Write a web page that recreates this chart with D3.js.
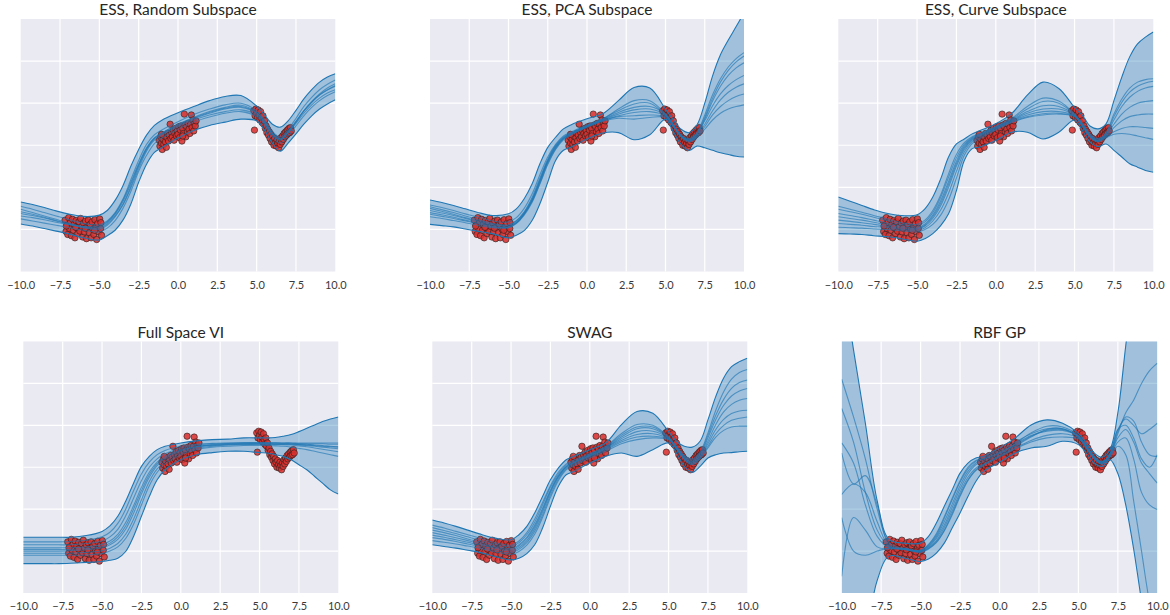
<!DOCTYPE html>
<html>
<head>
<meta charset="utf-8">
<script src="https://cdn.jsdelivr.net/npm/d3@7"></script>
<style>
  body { margin: 0; background: #fff; }
  svg { display: block; }
  text { font-family: Lato, "DejaVu Sans", sans-serif; }
</style>
</head>
<body>
<svg id="chart" width="1170" height="615"></svg>
<script>
// x positions where every curve below is sampled
var xKnots = [-10,-9.25,-8.5,-7.75,-7,-6,-5,-4.5,-4,-3.5,-3,-2.5,-2,-1.5,-1,0,1,2,3,4,5,5.5,6,6.5,7,7.5,8,8.5,9,9.5,10];
var xTicks = [-10,-7.5,-5,-2.5,0,2.5,5,7.5,10];
var yGrid = [-2,-1,0,1,2];

// observed points (same data in every panel)
var obsLeft = [[-7.18,-1.78],[-7.12,-2.05],[-7.05,-1.9],[-7.01,-2.12],[-6.95,-1.72],[-6.9,-1.98],[-6.84,-1.84],[-6.78,-2.15],[-6.71,-1.76],[-6.66,-2.02],[-6.6,-1.88],[-6.55,-2.2],[-6.48,-1.79],[-6.42,-1.96],[-6.37,-2.1],[-6.3,-1.82],[-6.24,-2.04],[-6.19,-1.74],[-6.12,-1.93],[-6.06,-2.18],[-6.0,-1.85],[-5.95,-2.06],[-5.88,-1.8],[-5.82,-2.22],[-5.77,-1.95],[-5.7,-1.78],[-5.64,-2.08],[-5.58,-1.88],[-5.52,-2.2],[-5.46,-1.82],[-5.4,-2.0],[-5.35,-2.12],[-5.28,-1.77],[-5.22,-1.96],[-5.17,-2.24],[-5.1,-1.86],[-5.05,-2.06],[-4.98,-1.75],[-4.92,-1.98],[-4.86,-2.14],[-7.1,-1.92],[-6.5,-1.95],[-5.9,-1.97],[-5.3,-2.02],[-4.9,-1.84]];
var obsMid = [[-1.2,0.12],[-1.15,-0.02],[-1.1,0.2],[-1.05,0.05],[-1.0,-0.1],[-0.95,0.14],[-0.9,0.02],[-0.85,0.22],[-0.8,0.08],[-0.74,-0.05],[-0.7,0.18],[-0.65,0.28],[-0.6,0.1],[-0.55,0.24],[-0.5,0.5],[-0.45,0.16],[-0.4,0.3],[-0.35,0.2],[-0.3,0.36],[-0.25,0.12],[-0.2,0.28],[-0.15,0.4],[-0.1,0.22],[-0.05,0.34],[0.0,0.26],[0.05,0.44],[0.1,0.18],[0.15,0.36],[0.2,0.46],[0.25,0.1],[0.3,0.4],[0.35,0.28],[0.4,0.74],[0.45,0.48],[0.5,0.2],[0.55,0.44],[0.6,0.32],[0.65,0.52],[0.7,0.38],[0.75,0.28],[0.8,0.5],[0.85,0.72],[0.9,0.42],[0.95,0.6],[1.0,0.34],[1.05,0.52],[1.1,0.46],[1.15,0.58],[-1.05,0.26],[0.3,0.22]];
var obsRight = [[4.82,0.82],[4.86,0.36],[4.9,0.7],[4.95,0.86],[5.0,0.76],[5.05,0.66],[5.1,0.84],[5.15,0.72],[5.2,0.6],[5.25,0.8],[5.3,0.66],[5.35,0.54],[5.4,0.7],[5.45,0.5],[5.5,0.58],[5.55,0.4],[5.6,0.46],[5.65,0.3],[5.7,0.38],[5.75,0.24],[5.8,0.32],[5.85,0.16],[5.9,0.26],[5.95,0.08],[6.0,0.2],[6.05,0.12],[6.1,0.0],[6.15,0.16],[6.2,0.06],[6.25,-0.02],[6.3,0.12],[6.35,0.04],[6.4,-0.06],[6.45,0.1],[6.5,0.02],[6.55,0.18],[6.6,0.08],[6.65,0.22],[6.7,0.14],[6.75,0.28],[6.8,0.2],[6.85,0.32],[6.9,0.24],[6.95,0.36],[7.0,0.28],[7.05,0.4],[7.1,0.3],[7.15,0.42],[7.2,0.34]];

var titles = ["ESS, Random Subspace", "ESS, PCA Subspace", "ESS, Curve Subspace", "Full Space VI", "SWAG", "RBF GP"];

// ESS, random subspace
var upperRandom = [-1.35,-1.41,-1.48,-1.56,-1.63,-1.69,-1.66,-1.55,-1.31,-0.96,-0.5,-0.1,0.24,0.47,0.6,0.77,0.92,1.06,1.16,1.18,0.93,0.72,0.5,0.43,0.58,0.83,1.1,1.32,1.5,1.62,1.7];
var lowerRandom = [-1.87,-1.92,-1.98,-2.04,-2.1,-2.2,-2.25,-2.15,-2.02,-1.78,-1.4,-0.88,-0.45,-0.17,-0.05,0.17,0.35,0.47,0.55,0.62,0.58,0.36,0.05,-0.14,0.05,0.27,0.5,0.7,0.86,0.98,1.08];
var samplesRandom = [
  [-1.45,-1.52,-1.6,-1.68,-1.76,-1.86,-1.89,-1.8,-1.6,-1.28,-0.82,-0.36,0.02,0.25,0.37,0.56,0.73,0.86,0.96,1.0,0.82,0.6,0.33,0.2,0.38,0.64,0.92,1.14,1.32,1.45,1.55],
  [-1.75,-1.8,-1.85,-1.9,-1.95,-2.02,-2.06,-1.97,-1.79,-1.5,-1.1,-0.62,-0.24,0.04,0.18,0.38,0.55,0.67,0.76,0.8,0.68,0.48,0.2,0.05,0.22,0.46,0.7,0.9,1.06,1.18,1.27],
  [-1.58,-1.64,-1.71,-1.79,-1.86,-1.95,-1.97,-1.87,-1.68,-1.4,-0.98,-0.5,-0.1,0.16,0.28,0.47,0.63,0.76,0.86,0.9,0.76,0.55,0.27,0.15,0.32,0.56,0.81,1.02,1.2,1.32,1.42],
  [-1.68,-1.72,-1.77,-1.83,-1.88,-1.93,-1.92,-1.82,-1.62,-1.3,-0.88,-0.44,-0.06,0.18,0.3,0.5,0.66,0.8,0.9,0.95,0.78,0.55,0.27,0.13,0.3,0.52,0.76,0.96,1.12,1.24,1.32],
  [-1.52,-1.6,-1.68,-1.76,-1.84,-1.96,-2.0,-1.9,-1.7,-1.42,-1.02,-0.56,-0.14,0.12,0.25,0.44,0.6,0.72,0.8,0.84,0.72,0.52,0.25,0.12,0.3,0.55,0.82,1.04,1.22,1.36,1.46],
  [-1.62,-1.67,-1.73,-1.8,-1.87,-1.94,-1.95,-1.84,-1.64,-1.34,-0.92,-0.47,-0.08,0.16,0.29,0.49,0.65,0.78,0.88,0.92,0.77,0.56,0.29,0.16,0.33,0.57,0.82,1.02,1.19,1.31,1.4]
];

// ESS, PCA subspace
var upperPCA = [-1.3,-1.36,-1.43,-1.51,-1.59,-1.67,-1.63,-1.51,-1.27,-0.92,-0.44,-0.05,0.19,0.39,0.49,0.63,0.75,1.06,1.37,1.36,0.86,0.6,0.38,0.3,0.48,1.0,1.65,2.15,2.5,2.82,3.15];
var lowerPCA = [-1.88,-1.91,-1.94,-1.99,-2.04,-2.1,-2.2,-2.14,-2.03,-1.79,-1.39,-0.88,-0.36,-0.12,-0.04,0.15,0.29,0.3,0.13,0.25,0.62,0.32,0.02,-0.12,-0.02,-0.06,-0.12,-0.18,-0.22,-0.26,-0.28];
var samplesPCA = [
  [-1.42,-1.48,-1.55,-1.63,-1.7,-1.8,-1.82,-1.72,-1.5,-1.16,-0.7,-0.28,0.02,0.22,0.32,0.48,0.63,0.82,0.98,1.0,0.72,0.48,0.24,0.16,0.3,0.72,1.2,1.58,1.86,2.06,2.2],
  [-1.6,-1.65,-1.71,-1.78,-1.84,-1.93,-1.95,-1.85,-1.64,-1.32,-0.86,-0.4,-0.06,0.16,0.27,0.44,0.58,0.7,0.78,0.8,0.7,0.46,0.2,0.1,0.22,0.5,0.82,1.08,1.26,1.38,1.46],
  [-1.5,-1.57,-1.64,-1.72,-1.79,-1.88,-1.9,-1.8,-1.6,-1.28,-0.82,-0.36,-0.02,0.18,0.29,0.46,0.61,0.78,0.9,0.92,0.74,0.5,0.22,0.12,0.26,0.62,1.05,1.4,1.66,1.84,1.96],
  [-1.7,-1.74,-1.79,-1.84,-1.9,-1.96,-1.96,-1.86,-1.66,-1.36,-0.92,-0.46,-0.1,0.13,0.25,0.43,0.57,0.64,0.62,0.66,0.66,0.44,0.2,0.08,0.18,0.38,0.6,0.76,0.86,0.92,0.96],
  [-1.55,-1.61,-1.67,-1.74,-1.81,-1.9,-1.93,-1.83,-1.62,-1.3,-0.85,-0.38,-0.04,0.17,0.28,0.45,0.6,0.74,0.84,0.86,0.72,0.48,0.22,0.12,0.26,0.58,0.94,1.22,1.42,1.56,1.66],
  [-1.46,-1.53,-1.6,-1.68,-1.76,-1.86,-1.89,-1.79,-1.58,-1.24,-0.78,-0.33,0.0,0.2,0.3,0.47,0.62,0.86,1.06,1.06,0.74,0.49,0.23,0.14,0.28,0.66,1.12,1.5,1.78,1.98,2.12],
  [-1.64,-1.69,-1.74,-1.8,-1.86,-1.94,-1.95,-1.84,-1.63,-1.33,-0.9,-0.43,-0.08,0.15,0.26,0.44,0.59,0.68,0.7,0.72,0.68,0.45,0.21,0.1,0.2,0.44,0.72,0.92,1.06,1.16,1.22]
];

// ESS, curve subspace
var upperCurve = [-1.23,-1.33,-1.43,-1.53,-1.61,-1.67,-1.65,-1.51,-1.23,-0.8,-0.28,0.03,0.15,0.27,0.35,0.51,0.75,1.19,1.5,1.35,0.9,0.71,0.45,0.39,0.51,1.06,1.62,2.1,2.41,2.57,2.69];
var lowerCurve = [-2.1,-2.11,-2.12,-2.15,-2.17,-2.22,-2.28,-2.22,-2.1,-1.91,-1.63,-1.08,-0.36,-0.08,-0.04,0.11,0.31,0.31,0.15,0.31,0.6,0.35,0.07,-0.03,0.03,-0.12,-0.28,-0.44,-0.52,-0.6,-0.64];
var samplesCurve = [
  [-1.45,-1.52,-1.59,-1.67,-1.74,-1.84,-1.88,-1.78,-1.55,-1.18,-0.68,-0.22,0.06,0.2,0.28,0.45,0.64,0.92,1.12,1.05,0.74,0.52,0.26,0.16,0.3,0.74,1.1,1.36,1.5,1.56,1.58],
  [-1.95,-1.96,-1.97,-1.99,-2.0,-2.03,-2.06,-2.0,-1.88,-1.66,-1.3,-0.78,-0.24,0.04,0.16,0.36,0.54,0.66,0.72,0.74,0.68,0.45,0.18,0.08,0.18,0.26,0.28,0.26,0.22,0.18,0.14],
  [-1.62,-1.67,-1.72,-1.78,-1.84,-1.92,-1.96,-1.87,-1.66,-1.32,-0.86,-0.38,-0.02,0.16,0.25,0.42,0.6,0.8,0.94,0.92,0.72,0.49,0.22,0.12,0.26,0.6,0.92,1.14,1.28,1.36,1.4],
  [-1.78,-1.81,-1.84,-1.88,-1.92,-1.98,-2.0,-1.92,-1.74,-1.44,-1.0,-0.5,-0.1,0.12,0.22,0.4,0.57,0.72,0.8,0.8,0.7,0.47,0.2,0.1,0.22,0.42,0.58,0.68,0.72,0.74,0.74],
  [-1.52,-1.58,-1.64,-1.71,-1.78,-1.88,-1.92,-1.82,-1.6,-1.24,-0.76,-0.3,0.02,0.18,0.27,0.44,0.62,0.86,1.04,1.0,0.73,0.5,0.24,0.14,0.28,0.68,1.02,1.26,1.4,1.48,1.52],
  [-1.7,-1.74,-1.78,-1.83,-1.88,-1.95,-1.98,-1.9,-1.7,-1.38,-0.93,-0.44,-0.06,0.14,0.24,0.41,0.58,0.76,0.86,0.86,0.71,0.48,0.21,0.11,0.24,0.5,0.74,0.9,1.0,1.04,1.06],
  [-1.86,-1.88,-1.9,-1.93,-1.95,-2.0,-2.03,-1.96,-1.8,-1.54,-1.14,-0.62,-0.16,0.08,0.19,0.38,0.55,0.68,0.75,0.76,0.69,0.46,0.19,0.09,0.2,0.32,0.4,0.44,0.44,0.42,0.4]
];

// full space VI
var upperVI = [-1.67,-1.67,-1.67,-1.67,-1.67,-1.63,-1.53,-1.4,-1.17,-0.81,-0.38,0.02,0.26,0.42,0.5,0.58,0.63,0.66,0.67,0.7,0.7,0.7,0.71,0.74,0.78,0.85,0.93,1.01,1.09,1.15,1.2];
var lowerVI = [-2.3,-2.3,-2.3,-2.3,-2.29,-2.27,-2.25,-2.22,-2.17,-2.01,-1.65,-1.17,-0.7,-0.3,-0.06,0.18,0.3,0.35,0.38,0.38,0.35,0.34,0.3,0.26,0.18,0.06,-0.06,-0.22,-0.38,-0.54,-0.64];
var samplesVI = [
  [-1.78,-1.78,-1.78,-1.78,-1.77,-1.74,-1.66,-1.55,-1.34,-1.0,-0.56,-0.16,0.12,0.3,0.4,0.5,0.55,0.57,0.58,0.59,0.59,0.59,0.59,0.58,0.58,0.56,0.55,0.53,0.52,0.5,0.49],
  [-2.1,-2.1,-2.1,-2.1,-2.1,-2.09,-2.06,-2.0,-1.9,-1.7,-1.36,-0.9,-0.44,-0.12,0.08,0.3,0.42,0.48,0.5,0.52,0.52,0.52,0.51,0.5,0.48,0.45,0.42,0.38,0.34,0.3,0.26],
  [-1.92,-1.92,-1.92,-1.92,-1.92,-1.9,-1.84,-1.76,-1.6,-1.32,-0.92,-0.48,-0.12,0.12,0.26,0.42,0.5,0.54,0.56,0.57,0.57,0.57,0.56,0.56,0.55,0.54,0.52,0.5,0.48,0.46,0.44],
  [-2.0,-2.0,-2.0,-2.0,-1.99,-1.97,-1.92,-1.85,-1.72,-1.48,-1.1,-0.64,-0.24,0.04,0.2,0.38,0.48,0.52,0.54,0.55,0.55,0.55,0.55,0.55,0.55,0.54,0.53,0.52,0.5,0.49,0.48],
  [-1.85,-1.85,-1.85,-1.85,-1.85,-1.82,-1.76,-1.66,-1.48,-1.16,-0.74,-0.32,0.0,0.2,0.32,0.46,0.53,0.56,0.57,0.58,0.58,0.58,0.58,0.58,0.58,0.58,0.58,0.58,0.58,0.58,0.58],
  [-2.05,-2.05,-2.05,-2.05,-2.05,-2.03,-1.99,-1.93,-1.82,-1.6,-1.24,-0.78,-0.34,-0.04,0.14,0.34,0.45,0.5,0.53,0.54,0.55,0.55,0.54,0.54,0.53,0.51,0.49,0.46,0.43,0.4,0.37],
  [-1.96,-1.96,-1.96,-1.96,-1.96,-1.94,-1.89,-1.81,-1.66,-1.4,-1.0,-0.56,-0.18,0.08,0.23,0.4,0.49,0.53,0.55,0.56,0.56,0.56,0.56,0.56,0.56,0.56,0.56,0.56,0.56,0.55,0.55]
];

// SWAG
var upperSWAG = [-1.26,-1.33,-1.41,-1.5,-1.59,-1.69,-1.73,-1.61,-1.41,-1.09,-0.7,-0.3,-0.02,0.18,0.26,0.42,0.58,1.01,1.33,1.29,0.85,0.62,0.5,0.48,0.62,1.13,1.69,2.13,2.4,2.52,2.6];
var lowerSWAG = [-1.85,-1.89,-1.93,-1.98,-2.03,-2.13,-2.21,-2.17,-2.06,-1.85,-1.45,-0.93,-0.46,-0.18,-0.1,0.1,0.26,0.34,0.26,0.42,0.58,0.34,0.02,-0.12,0.02,0.22,0.3,0.34,0.35,0.37,0.38];
var samplesSWAG = [
  [-1.38,-1.45,-1.53,-1.61,-1.69,-1.8,-1.86,-1.76,-1.56,-1.24,-0.84,-0.44,-0.12,0.08,0.17,0.33,0.5,0.8,1.02,1.0,0.72,0.5,0.28,0.2,0.36,0.82,1.36,1.8,2.1,2.26,2.33],
  [-1.75,-1.79,-1.83,-1.88,-1.93,-2.02,-2.08,-2.01,-1.86,-1.6,-1.2,-0.72,-0.32,-0.06,0.04,0.22,0.38,0.56,0.66,0.7,0.66,0.44,0.18,0.06,0.2,0.46,0.72,0.88,0.96,0.98,0.98],
  [-1.5,-1.56,-1.63,-1.71,-1.78,-1.88,-1.94,-1.85,-1.67,-1.38,-0.98,-0.54,-0.2,0.02,0.12,0.29,0.46,0.72,0.92,0.92,0.7,0.48,0.24,0.14,0.3,0.7,1.14,1.48,1.7,1.82,1.88],
  [-1.62,-1.67,-1.73,-1.79,-1.85,-1.94,-2.0,-1.92,-1.75,-1.47,-1.07,-0.6,-0.24,0.0,0.1,0.27,0.43,0.64,0.78,0.8,0.68,0.46,0.2,0.1,0.24,0.56,0.9,1.14,1.28,1.34,1.36],
  [-1.44,-1.51,-1.58,-1.66,-1.74,-1.84,-1.9,-1.8,-1.61,-1.31,-0.9,-0.48,-0.16,0.05,0.14,0.31,0.48,0.76,0.96,0.96,0.71,0.49,0.26,0.17,0.33,0.76,1.24,1.62,1.88,2.02,2.08],
  [-1.56,-1.62,-1.68,-1.75,-1.82,-1.91,-1.97,-1.88,-1.7,-1.42,-1.02,-0.57,-0.22,0.01,0.11,0.28,0.45,0.68,0.85,0.86,0.69,0.47,0.22,0.12,0.27,0.62,1.02,1.32,1.5,1.6,1.64],
  [-1.68,-1.72,-1.77,-1.83,-1.89,-1.98,-2.04,-1.96,-1.8,-1.53,-1.14,-0.66,-0.28,-0.03,0.07,0.25,0.41,0.6,0.72,0.74,0.67,0.45,0.19,0.08,0.22,0.5,0.8,1.0,1.12,1.17,1.2]
];

// RBF GP
var upperRBF = [4.6,2.8,1.05,-0.8,-1.72,-1.81,-1.81,-1.65,-1.33,-0.93,-0.54,-0.14,0.1,0.22,0.26,0.46,0.7,1.01,1.13,1.05,0.81,0.58,0.34,0.24,0.42,1.3,2.9,4.4,5.5,6.0,6.2];
var lowerRBF = [-7.5,-5.8,-4.2,-2.7,-2.12,-2.17,-2.25,-2.19,-2.05,-1.81,-1.45,-1.09,-0.7,-0.34,-0.1,0.12,0.34,0.46,0.5,0.62,0.54,0.34,0.1,0.02,0.18,-0.15,-0.9,-1.95,-3.2,-4.5,-5.8];
var samplesRBF = [
  [2.1,1.2,0.2,-1.0,-1.8,-1.95,-1.98,-1.86,-1.62,-1.22,-0.78,-0.36,-0.04,0.14,0.2,0.36,0.55,0.76,0.86,0.88,0.74,0.5,0.24,0.12,0.32,0.9,1.15,1.0,0.8,0.9,1.05],
  [-0.65,-0.4,-0.6,-1.3,-1.88,-1.95,-2.02,-1.92,-1.75,-1.44,-1.04,-0.6,-0.24,-0.02,0.08,0.28,0.5,0.72,0.9,0.92,0.72,0.48,0.22,0.1,0.28,0.7,0.9,0.6,0.1,-0.15,-0.38],
  [0.58,0.1,-0.9,-1.65,-1.92,-1.93,-2.0,-1.9,-1.7,-1.38,-0.96,-0.52,-0.16,0.06,0.14,0.32,0.56,0.82,0.98,0.96,0.76,0.52,0.26,0.14,0.3,0.85,1.2,1.1,0.6,0.3,0.26],
  [0.34,-0.4,-0.2,-0.9,-1.85,-1.97,-1.98,-1.84,-1.58,-1.18,-0.74,-0.32,0.0,0.16,0.22,0.4,0.6,0.8,0.92,0.92,0.74,0.5,0.24,0.12,0.3,0.8,1.3,1.6,2.0,2.3,2.48],
  [-2.6,-1.2,-1.5,-1.9,-1.95,-1.94,-2.01,-1.94,-1.78,-1.5,-1.1,-0.66,-0.3,-0.06,0.06,0.26,0.46,0.64,0.76,0.8,0.7,0.46,0.2,0.08,0.26,0.6,0.7,0.2,-0.6,-0.9,-1.01],
  [1.4,0.6,-0.6,-1.5,-1.9,-1.96,-2.0,-1.88,-1.66,-1.3,-0.88,-0.44,-0.1,0.1,0.18,0.34,0.52,0.74,0.88,0.9,0.73,0.5,0.24,0.12,0.32,0.9,1.0,0.7,0.2,0.0,0.3],
  [-1.2,-2.0,-2.1,-2.0,-1.93,-1.96,-2.03,-1.95,-1.8,-1.52,-1.14,-0.7,-0.32,-0.08,0.04,0.24,0.44,0.6,0.7,0.72,0.68,0.46,0.2,0.08,0.24,0.5,0.3,-0.8,-2.0,-3.2,-4.0]
];

var uppers = [upperRandom, upperPCA, upperCurve, upperVI, upperSWAG, upperRBF];
var lowers = [lowerRandom, lowerPCA, lowerCurve, lowerVI, lowerSWAG, lowerRBF];
var samples = [samplesRandom, samplesPCA, samplesCurve, samplesVI, samplesSWAG, samplesRBF];

// panel boxes in pixels
var boxes = [
  {left: 20.7,  width: 314.6, top: 19,    bottom: 271.5},
  {left: 430,   width: 314,   top: 19,    bottom: 271.5},
  {left: 838.3, width: 315,   top: 19,    bottom: 271.5},
  {left: 23.3,  width: 315,   top: 341.5, bottom: 593},
  {left: 432.3, width: 315,   top: 341.5, bottom: 593},
  {left: 841.7, width: 315.6, top: 341.5, bottom: 593}
];

var blue = "#1f77b4";
var allObs = obsLeft.concat(obsMid, obsRight);
var svg = d3.select("#chart");

boxes.forEach(function (b, i) {
  var x = d3.scaleLinear().domain([-10, 10]).range([b.left, b.left + b.width]);
  var y = d3.scaleLinear().domain([-3, 3]).range([b.bottom, b.top]);
  var g = svg.append("g");

  g.append("rect")
    .attr("x", b.left).attr("y", b.top)
    .attr("width", b.width).attr("height", b.bottom - b.top)
    .attr("fill", "#eaeaf2");

  // white grid
  g.selectAll("line.gx")
    .data(xTicks.slice(1, -1))
    .enter().append("line")
    .attr("x1", function (d) { return x(d); }).attr("x2", function (d) { return x(d); })
    .attr("y1", b.top).attr("y2", b.bottom)
    .attr("stroke", "#fff").attr("stroke-width", 1.2);
  g.selectAll("line.gy")
    .data(yGrid)
    .enter().append("line")
    .attr("y1", function (d) { return y(d); }).attr("y2", function (d) { return y(d); })
    .attr("x1", b.left).attr("x2", b.left + b.width)
    .attr("stroke", "#fff").attr("stroke-width", 1.2);

  var clipId = "clip" + i;
  svg.append("clipPath").attr("id", clipId)
    .append("rect")
    .attr("x", b.left).attr("y", b.top)
    .attr("width", b.width).attr("height", b.bottom - b.top);

  var plot = g.append("g").attr("clip-path", "url(#" + clipId + ")");

  var up = uppers[i], lo = lowers[i];
  var band = xKnots.map(function (k, j) { return [k, lo[j], up[j]]; });

  var area = d3.area()
    .x(function (d) { return x(d[0]); })
    .y0(function (d) { return y(d[1]); })
    .y1(function (d) { return y(d[2]); })
    .curve(d3.curveCatmullRom.alpha(0.5));
  var line = d3.line()
    .x(function (d) { return x(d[0]); })
    .y(function (d) { return y(d[1]); })
    .curve(d3.curveCatmullRom.alpha(0.5));

  plot.append("path")
    .attr("d", area(band))
    .attr("fill", blue).attr("fill-opacity", 0.36);

  // observations
  plot.selectAll("circle")
    .data(allObs)
    .enter().append("circle")
    .attr("cx", function (d) { return x(d[0]); })
    .attr("cy", function (d) { return y(d[1]); })
    .attr("r", 3.2)
    .attr("fill", "#d8312f").attr("fill-opacity", 0.88)
    .attr("stroke", "#222").attr("stroke-width", 0.6);

  // posterior samples
  plot.selectAll("path.sample")
    .data(samples[i])
    .enter().append("path")
    .attr("class", "sample")
    .attr("d", function (s) { return line(xKnots.map(function (k, j) { return [k, s[j]]; })); })
    .attr("fill", "none")
    .attr("stroke", blue).attr("stroke-opacity", 0.65).attr("stroke-width", 1.1);

  // band edges
  [up, lo].forEach(function (edge) {
    plot.append("path")
      .attr("d", line(xKnots.map(function (k, j) { return [k, edge[j]]; })))
      .attr("fill", "none")
      .attr("stroke", blue).attr("stroke-width", 1.1);
  });

  // x tick labels
  var ax = g.append("g")
    .attr("transform", "translate(0," + b.bottom + ")")
    .call(d3.axisBottom(x).tickValues(xTicks).tickFormat(d3.format(".1f")).tickSize(0).tickPadding(9.5));
  ax.select(".domain").remove();
  ax.selectAll("text")
    .style("font-family", "Lato, 'DejaVu Sans', sans-serif")
    .style("font-size", "11px")
    .attr("fill", "#3a3a3a");

  g.append("text")
    .attr("x", b.left + b.width / 2)
    .attr("y", b.top - 4)
    .attr("text-anchor", "middle")
    .attr("font-size", "15.5px")
    .attr("fill", "#262626")
    .text(titles[i]);
});
</script>
</body>
</html>
